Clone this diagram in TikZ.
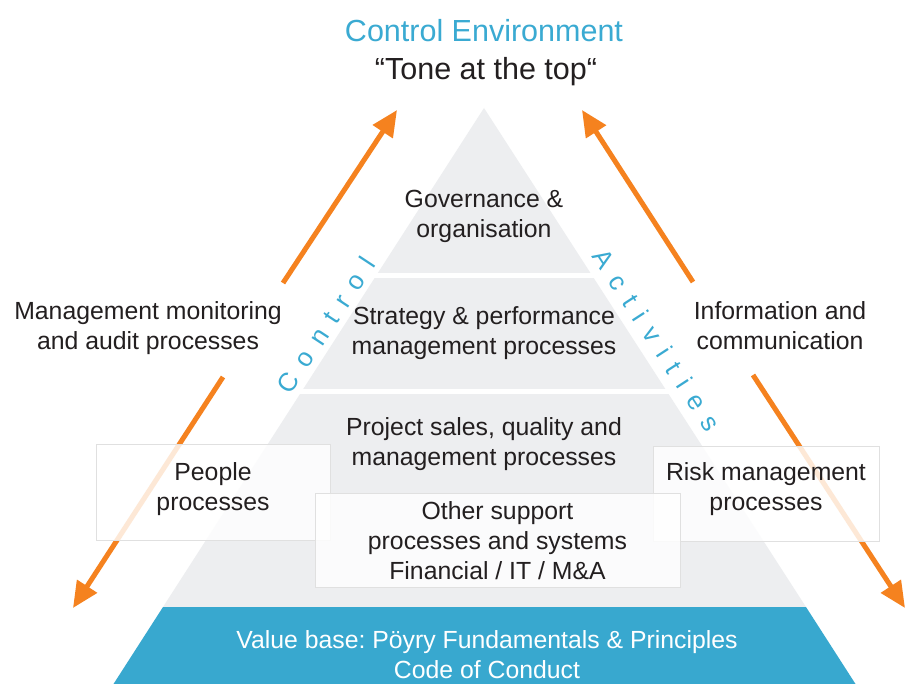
\documentclass[tikz,border=0pt]{standalone}
\usepackage{fontspec}
\setmainfont{Liberation Sans}
\usetikzlibrary{arrows.meta}
\definecolor{orng}{HTML}{F5821F}
\definecolor{cblue}{HTML}{3AAAD2}
\definecolor{bandblue}{HTML}{38A8CF}
\definecolor{pgray}{HTML}{EDEEF0}
\definecolor{ink}{HTML}{231F20}
\tikzset{
  body/.style={text=ink, align=center, inner sep=0pt, font=\fontsize{24.8}{30}\selectfont\frenchspacing},
  title/.style={align=center, inner sep=0pt, font=\fontsize{30.5}{38}\selectfont},
  procbox/.style={fill=white, fill opacity=0.82, text opacity=1, draw=black!12, line width=0.6pt, inner sep=0pt},
  arr/.style={draw=orng, line width=5pt, -{Triangle[length=26pt,width=23pt]}},
  rot/.style={text=cblue, inner sep=0pt, font=\fontsize{26}{30}\selectfont}
}
\newcommand{\lsp}{\hspace{12pt}}
\begin{document}
\begin{tikzpicture}[x=1pt,y=-1pt]
\useasboundingbox (0,0) rectangle (910,684);
\fill[white] (0,0) rectangle (910,684);
% pyramid
\fill[pgray] (484,108) -- (163,607) -- (806,607) -- cycle;
\fill[white] (150,273) rectangle (820,278);
\fill[white] (150,389) rectangle (820,394);
\fill[bandblue] (163,607) -- (806,607) -- (855.5,684) -- (113.5,684) -- cycle;
% arrow end points
\coordinate (lus) at (283,283); \coordinate (lue) at (397,110);
\coordinate (rus) at (693,282); \coordinate (rue) at (582,110);
\coordinate (lds) at (223,377); \coordinate (lde) at (73,608);
\coordinate (rds) at (753,375); \coordinate (rde) at (905,608);
\draw[arr] (lds) -- (lde);
\draw[arr] (rds) -- (rde);
\draw[arr] (lus) -- (lue);
\draw[arr] (rus) -- (rue);
% titles
\node[title, text=cblue, anchor=base] (tce) at (484,42) {Control Environment};
\node[title, text=ink, anchor=base] (ttone) at (486,80) {``Tone at the top``};
% pyramid texts
\node[body] (tgov) at (484,216) {Governance \&\\organisation};
\node[body] (tstrat) at (484,333) {Strategy \& performance\\management processes};
\node[body] (tproj) at (484,444) {Project sales, quality and\\management processes};
% boxes
\node[procbox, minimum width=234pt, minimum height=96pt] (bpeople) at (213,492) {};
\node[body] at (bpeople.center) [yshift=3pt] (tpeople) {People\\processes};
\node[procbox, minimum width=226pt, minimum height=95pt] (brisk) at (766,493.5) {};
\node[body] at (brisk.center) [yshift=4.5pt] (trisk) {Risk management\\processes};
\node[procbox, minimum width=365pt, minimum height=94pt] (bother) at (497.5,540) {};
\node[body] at (bother.center) [yshift=-1pt] (tother) {Other support\\processes and systems\\Financial / IT / M\&A};
% value base
\node[body, text=white] (tvalue) at (487,655) {Value base: Pöyry Fundamentals \& Principles\\Code of Conduct};
% side texts
\node[body] (tmgmt) at (148,328) {Management monitoring\\and audit processes};
\node[body] (tinfo) at (780,326) {Information and\\communication};
% rotated labels
\node[rot, rotate=56.6] (tctrl) at (326,325) {C\lsp o\lsp n\lsp t\lsp r\lsp o\lsp l};
\node[rot, rotate=-57] (tact) at (657,340) {A\lsp c\lsp t\lsp i\lsp v\lsp i\lsp t\lsp i\lsp e\lsp s};
\end{tikzpicture}
\end{document}
